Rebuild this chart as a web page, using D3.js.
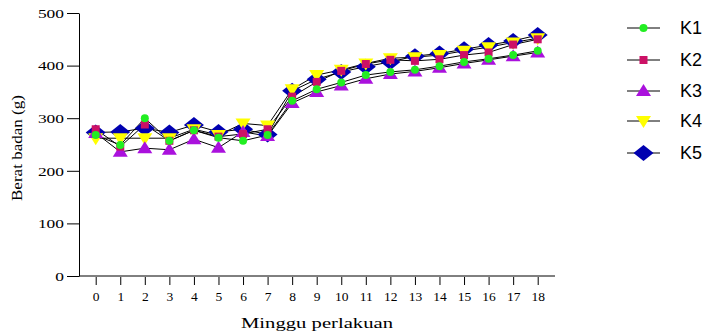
<!DOCTYPE html>
<html>
<head>
<meta charset="utf-8">
<script src="https://cdn.jsdelivr.net/npm/d3@7"></script>
<style>
  body { margin: 0; background: #fff; }
  svg { display: block; }
  .axis text { font-family: "Liberation Serif", "Times New Roman", serif; font-size: 13.5px; fill: #000; }
  .axis path, .axis line { stroke: #000; stroke-width: 1px; }
</style>
</head>
<body>
<svg id="chart" width="707" height="333"></svg>
<script>
// weeks of treatment
var weeks = d3.range(0, 19);
var seriesNames = ["K1", "K2", "K3", "K4", "K5"];

var k1 = [268, 249, 300, 257, 277, 263, 257, 268, 333, 355, 368, 382, 388, 392, 399, 407, 413, 420, 428];
var k2 = [279, 246, 288, 257, 277, 265, 270, 279, 341, 369, 390, 403, 411, 409, 412, 420, 425, 440, 450];
var k3 = [272, 236, 243, 240, 260, 244, 274, 266, 329, 350, 362, 375, 384, 389, 396, 404, 411, 418, 425];
var k4 = [262, 262, 262, 262, 279, 268, 290, 286, 355, 382, 392, 404, 414, 416, 420, 428, 435, 444, 452];
var k5 = [273, 274, 281, 273, 287, 274, 279, 269, 352, 374, 388, 398, 407, 418, 423, 431, 439, 447, 458];

var yTicks = [0, 100, 200, 300, 400, 500];

var seriesColor = {K1: "#22ee22", K2: "#cc1166", K3: "#aa11dd", K4: "#ffff00", K5: "#0000b0"};
var seriesShape = {K1: "circle", K2: "square", K3: "up", K4: "down", K5: "diamond"};
var allData = {K1: k1, K2: k2, K3: k3, K4: k4, K5: k5};

var svg = d3.select("#chart");

var x = d3.scaleLinear().domain([0, 18]).range([95.7, 537.7]);
var y = d3.scaleLinear().domain([0, 500]).range([276, 13]);

// y axis, labels are drawn wide like the original
var yAxis = svg.append("g")
    .attr("class", "axis")
    .attr("transform", "translate(79,0)")
    .call(d3.axisLeft(y).tickValues(yTicks).tickSize(12).tickPadding(3).tickSizeOuter(0));
yAxis.selectAll(".tick text")
    .attr("textLength", function(d) { return String(d).length * 8.7; })
    .attr("lengthAdjust", "spacingAndGlyphs");

// baseline
svg.append("line")
    .attr("x1", 79).attr("x2", 555)
    .attr("y1", 276).attr("y2", 276)
    .attr("stroke", "#000");

// x axis is a bit below the baseline, no domain line
var xAxis = svg.append("g")
    .attr("class", "axis")
    .attr("transform", "translate(0,277)")
    .call(d3.axisBottom(x).tickValues(weeks).tickFormat(d3.format("d")).tickSize(8).tickPadding(6));
xAxis.select(".domain").remove();

// titles (the original is stretched wide)
svg.append("text")
    .attr("x", 241).attr("y", 328)
    .attr("textLength", 152)
    .attr("lengthAdjust", "spacingAndGlyphs")
    .style("font-family", "Liberation Serif, serif")
    .style("font-size", "15.5px")
    .text("Minggu perlakuan");

svg.append("text")
    .attr("transform", "translate(22,201) rotate(-90)")
    .attr("textLength", 106)
    .attr("lengthAdjust", "spacingAndGlyphs")
    .style("font-family", "Liberation Serif, serif")
    .style("font-size", "15.5px")
    .text("Berat badan (g)");

function drawMarker(g, shape, color, cx, cy) {
    if (shape === "circle") {
        g.append("circle").attr("cx", cx).attr("cy", cy).attr("r", 4).attr("fill", color);
    } else if (shape === "square") {
        g.append("rect").attr("x", cx - 4).attr("y", cy - 4).attr("width", 8).attr("height", 8).attr("fill", color);
    } else if (shape === "up") {
        g.append("path").attr("d", "M" + cx + "," + (cy - 7) + "L" + (cx + 7.5) + "," + (cy + 5) + "L" + (cx - 7.5) + "," + (cy + 5) + "Z").attr("fill", color);
    } else if (shape === "down") {
        g.append("path").attr("d", "M" + cx + "," + (cy + 7) + "L" + (cx + 7.5) + "," + (cy - 5) + "L" + (cx - 7.5) + "," + (cy - 5) + "Z").attr("fill", color);
    } else {
        g.append("path").attr("d", "M" + cx + "," + (cy - 8) + "L" + (cx + 10) + "," + cy + "L" + cx + "," + (cy + 8) + "L" + (cx - 10) + "," + cy + "Z").attr("fill", color);
    }
}

var line = d3.line()
    .x(function(d, i) { return x(weeks[i]); })
    .y(function(d) { return y(d); });

// draw K5 first so K1 ends on top
var order = seriesNames.slice().reverse();
order.forEach(function(name) {
    svg.append("path")
        .datum(allData[name])
        .attr("d", line)
        .attr("fill", "none")
        .attr("stroke", "#000")
        .attr("stroke-width", 1);
});
order.forEach(function(name) {
    var g = svg.append("g");
    allData[name].forEach(function(v, i) {
        drawMarker(g, seriesShape[name], seriesColor[name], x(weeks[i]), y(v));
    });
});

// legend
var legendY = [28, 60, 91, 121, 153];
seriesNames.forEach(function(name, i) {
    var g = svg.append("g");
    g.append("line")
        .attr("x1", 627).attr("x2", 660)
        .attr("y1", legendY[i]).attr("y2", legendY[i])
        .attr("stroke", "#000");
    drawMarker(g, seriesShape[name], seriesColor[name], 643.5, legendY[i]);
    g.append("text")
        .attr("x", 680).attr("y", legendY[i] + 6)
        .style("font-family", "Liberation Sans, Arial, sans-serif")
        .style("font-size", "18px")
        .text(name);
});
</script>
</body>
</html>
